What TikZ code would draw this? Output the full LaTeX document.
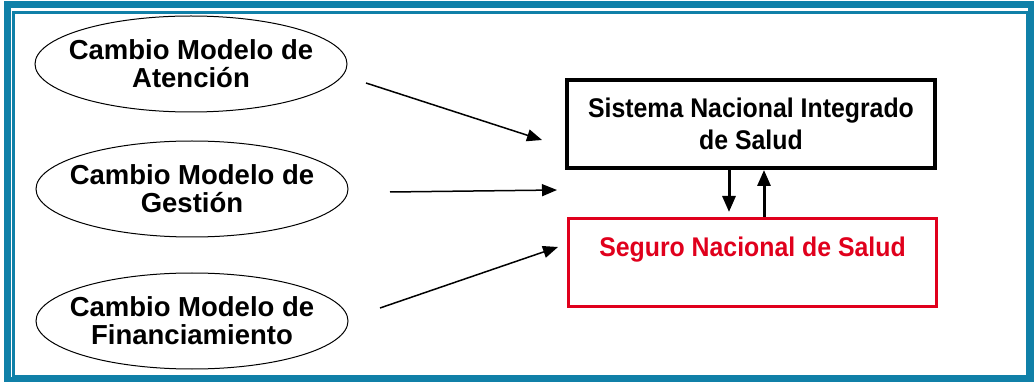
\documentclass[tikz,border=0pt]{standalone}
\usepackage{fontspec}
\setmainfont{Liberation Sans}
\newfontfamily\estrecha[FakeStretch=0.92]{Liberation Sans}
\usepackage{xcolor}
\usetikzlibrary{arrows.meta, shapes.geometric}

\definecolor{marco}{RGB}{16,128,168}
\definecolor{rojo}{RGB}{224,0,28}

\tikzset{
  cambio/.style={ellipse, draw, line width=1pt, minimum width=312pt, minimum height=96pt,
    inner xsep=-14pt, inner ysep=0pt, align=center, font=\fontsize{27.5}{28}\selectfont\bfseries},
  caja/.style={rectangle, draw, minimum width=368pt, minimum height=88pt, inner sep=0pt,
    align=center, font=\estrecha\fontsize{27}{32}\selectfont\bfseries},
  flecha/.style={-{Triangle[length=15pt,width=12pt]}, line width=1.5pt},
  fuerte/.style={-{Triangle[length=16pt,width=13pt]}, line width=3pt}
}

\begin{document}
\begin{tikzpicture}[x=1pt, y=-1pt]
    \useasboundingbox (0,0) rectangle (1034,382);
    % marco doble
    \draw[marco, line width=7pt] (7,5) rectangle (1031,380);
    \draw[marco, line width=2.5pt] (13.5,12.5) rectangle (1027,376);

    \node[cambio] (atencion) at (191,64) {Cambio Modelo de\\Atención};
    \node[cambio] (gestion) at (192,189) {Cambio Modelo de\\Gestión};
    \node[cambio] (finan) at (192,321) {Cambio Modelo de\\Financiamiento};

    \node[caja, line width=4pt] (sistema) at (751,124) {Sistema Nacional Integrado\\de Salud};
    \node[caja, draw=rojo, text=rojo, line width=3pt] (seguro) at (752.5,262.5)
        {Seguro Nacional de Salud\\\mbox{}};

    \coordinate (a1) at (366,83);
    \coordinate (b1) at (542,140);
    \coordinate (a2) at (390,192);
    \coordinate (b2) at (557,190);
    \coordinate (a3) at (380,308);
    \coordinate (b3) at (558,247);
    \draw[flecha] (a1) -- (b1);
    \draw[flecha] (a2) -- (b2);
    \draw[flecha] (a3) -- (b3);

    % entre las cajas
    \coordinate (baja) at (729,0);
    \coordinate (sube) at (764,0);
    \draw[fuerte] (sistema.south -| baja) -- ([yshift=5pt]seguro.north -| baja);
    \draw[fuerte] (seguro.north -| sube) -- (sistema.south -| sube);
\end{tikzpicture}
\end{document}
